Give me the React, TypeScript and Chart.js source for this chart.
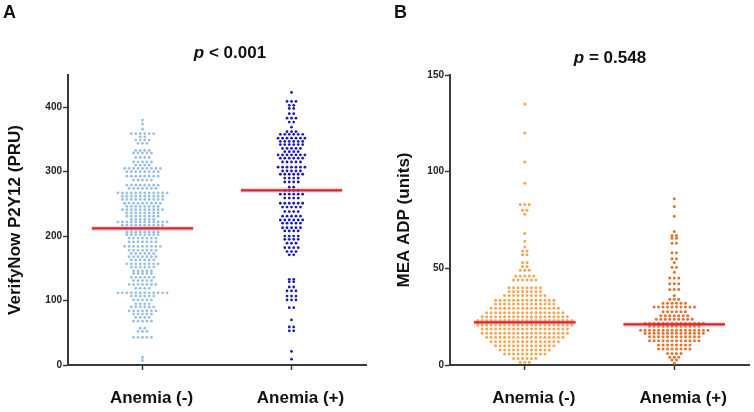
import React, { useEffect, useRef } from "react";
import { Chart, registerables } from "chart.js";

Chart.register(...registerables);

const FONT = '"Liberation Sans", Arial, sans-serif';

// Categories
const groupLabels = ["Anemia (-)", "Anemia (+)"];

const pruNegLevels = [380, 374, 366, 359, 354, 349, 344, 333, 329, 322, 315, 310, 305, 300, 293, 287, 279, 274, 267, 262, 257, 251, 246, 241, 236, 231, 226, 222, 217, 212, 206, 202, 197, 191, 184, 178, 173, 168, 163, 157, 152, 146, 142, 136, 131, 125, 119, 112, 107, 101, 95, 90, 84, 79, 74, 68, 57, 52, 43, 12, 7];
const pruNegCounts = [1, 1, 1, 6, 2, 4, 3, 4, 5, 4, 5, 4, 9, 8, 8, 5, 8, 7, 12, 10, 10, 9, 8, 10, 8, 8, 6, 12, 10, 8, 8, 8, 7, 7, 9, 7, 6, 7, 6, 8, 6, 5, 5, 6, 5, 7, 4, 12, 6, 5, 4, 6, 7, 5, 4, 5, 2, 3, 5, 1, 1];

const pruPosLevels = [423, 409, 403, 398, 390, 383, 377, 369, 362, 358, 352, 347, 342, 336, 331, 326, 321, 315, 307, 301, 296, 290, 284, 276, 271, 265, 259, 251, 245, 238, 231, 225, 220, 213, 208, 200, 195, 189, 182, 176, 171, 133, 129, 121, 115, 107, 101, 89, 70, 59, 53, 21, 9];
const pruPosCounts = [1, 3, 2, 2, 2, 3, 2, 1, 3, 6, 7, 6, 6, 5, 4, 7, 6, 5, 7, 5, 6, 4, 4, 2, 4, 6, 4, 6, 5, 4, 5, 6, 5, 5, 4, 4, 4, 3, 4, 3, 2, 2, 2, 2, 3, 3, 3, 2, 1, 2, 2, 1, 1];

// Panel B: MEA ADP (units)
const meaNegLevels = [135, 120, 105, 94, 83, 80, 78, 68, 64, 61, 59, 57, 53, 51, 49, 46, 44, 40, 38, 36, 33.5, 31.5, 29.3, 27, 25, 23, 20.7, 18.6, 16.4, 14.3, 12, 10, 7.8, 5.7, 3.4, 1.4];
const meaNegCounts = [1, 1, 1, 1, 3, 2, 1, 1, 1, 1, 2, 2, 2, 2, 3, 5, 6, 8, 8, 10, 14, 14, 16, 18, 20, 22, 22, 20, 20, 18, 16, 14, 12, 10, 6, 3];

const meaPosLevels = [86, 82, 77, 69, 67, 65.5, 63, 58, 55, 53, 50.5, 48, 45, 42, 39, 36, 34, 32, 30, 27.6, 25.5, 23.6, 21.6, 20, 18, 16.4, 14.6, 12.6, 10.3, 8.3, 6, 4, 2.6, 0.9];
const meaPosCounts = [1, 1, 1, 1, 2, 2, 2, 2, 2, 1, 2, 1, 3, 3, 3, 1, 3, 6, 10, 6, 7, 9, 14, 12, 16, 14, 12, 12, 8, 8, 4, 3, 2, 1];

// Group means (red lines)
const pruMeans = [212, 271];
const meaMeans = [22, 21];

// Tick labels
const pruTicks = [0, 100, 200, 300, 400];
const meaTicks = [0, 50, 100, 150];

const DOT_STEP = 0.03; // horizontal spacing of dots in category units
const MEAN_HALF = 0.34;

function swarm(levels: number[], counts: number[], cat: number) {
  const pts: { x: number; y: number }[] = [];
  levels.forEach((v, i) => {
    const n = counts[i];
    for (let k = 0; k < n; k++) {
      pts.push({ x: cat + (k - (n - 1) / 2) * DOT_STEP, y: v });
    }
  });
  return pts;
}

function meanLine(means: number[], i: number) {
  return [
    { x: i - MEAN_HALF, y: means[i] },
    { x: i + MEAN_HALF, y: means[i] },
  ];
}

type PanelSpec = {
  negLevels: number[];
  negCounts: number[];
  posLevels: number[];
  posCounts: number[];
  means: number[];
  ticks: number[];
  yMax: number;
  title: string;
  colors: [string, string];
  radius: number;
  padLeft: number;
  padRight: number;
  yWidth: number;
};

function makeConfig(p: PanelSpec): any {
  const dot = (data: any[], color: string) => ({
    data,
    showLine: false,
    pointRadius: p.radius,
    pointHoverRadius: p.radius,
    pointBorderWidth: 0,
    backgroundColor: color,
    borderColor: color,
    order: 2,
  });
  const line = (data: any[], color: string, width: number, order: number) => ({
    data,
    showLine: true,
    pointRadius: 0,
    pointHoverRadius: 0,
    borderColor: color,
    borderWidth: width,
    fill: false,
    order,
  });
  const axisColor = "#3a3a3a";
  return {
    type: "scatter",
    data: {
      datasets: [
        line(meanLine(p.means, 0), "rgba(240,140,140,0.3)", 5, 1),
        line(meanLine(p.means, 1), "rgba(240,140,140,0.3)", 5, 1),
        line(meanLine(p.means, 0), "#e0202a", 2.2, 0),
        line(meanLine(p.means, 1), "#e0202a", 2.2, 0),
        dot(swarm(p.negLevels, p.negCounts, 0), p.colors[0]),
        dot(swarm(p.posLevels, p.posCounts, 1), p.colors[1]),
      ],
    },
    options: {
      animation: false,
      responsive: false,
      events: [],
      layout: { padding: { left: p.padLeft, right: p.padRight, top: 75, bottom: 0 } },
      plugins: { legend: { display: false }, tooltip: { enabled: false } },
      scales: {
        x: {
          type: "linear",
          min: -0.5,
          max: 1.5,
          afterBuildTicks: (s: any) => {
            s.ticks = groupLabels.map((_, i) => ({ value: i }));
          },
          afterFit: (s: any) => {
            s.height = 47;
          },
          ticks: {
            autoSkip: false,
            maxRotation: 0,
            padding: 18,
            labelOffset: 9,
            color: "#111",
            font: { family: FONT, size: 17, weight: "bold" },
            callback: (v: any) => groupLabels[Math.round(Number(v))] ?? "",
          },
          grid: {
            drawOnChartArea: false,
            drawTicks: true,
            tickLength: 5,
            tickColor: axisColor,
            tickWidth: 1.5,
          },
          border: { display: true, color: axisColor, width: 2 },
        },
        y: {
          type: "linear",
          min: 0,
          max: p.yMax,
          afterBuildTicks: (s: any) => {
            s.ticks = p.ticks.map((v) => ({ value: v }));
          },
          afterFit: (s: any) => {
            s.width = p.yWidth;
          },
          ticks: {
            padding: 1,
            color: "#222",
            font: { family: FONT, size: 10, weight: "bold" },
          },
          grid: {
            drawOnChartArea: false,
            drawTicks: true,
            tickLength: 5,
            tickColor: axisColor,
            tickWidth: 1.5,
          },
          border: { display: true, color: axisColor, width: 2 },
          title: {
            display: true,
            text: p.title,
            color: "#111",
            padding: 0,
            font: { family: FONT, size: 17, weight: "bold" },
          },
        },
      },
    },
  };
}

const panelA: PanelSpec = {
  negLevels: pruNegLevels,
  negCounts: pruNegCounts,
  posLevels: pruPosLevels,
  posCounts: pruPosCounts,
  means: pruMeans,
  ticks: pruTicks,
  yMax: 450,
  title: "VerifyNow P2Y12 (PRU)",
  colors: ["#98bfe8", "#1a1ac4"],
  radius: 1.4,
  padLeft: 5,
  padRight: 11,
  yWidth: 63,
};

const panelB: PanelSpec = {
  negLevels: meaNegLevels,
  negCounts: meaNegCounts,
  posLevels: meaPosLevels,
  posCounts: meaPosCounts,
  means: meaMeans,
  ticks: meaTicks,
  yMax: 150,
  title: "MEA ADP (units)",
  colors: ["#f4a652", "#e8702a"],
  radius: 1.5,
  padLeft: 17,
  padRight: 5,
  yWidth: 56,
};

function Panel({ spec, left }: { spec: PanelSpec; left: number }) {
  const ref = useRef<HTMLCanvasElement | null>(null);
  useEffect(() => {
    if (!ref.current) return;
    const chart = new Chart(ref.current, makeConfig(spec));
    return () => chart.destroy();
  }, [spec]);
  return (
    <canvas
      ref={ref}
      width={377}
      height={412}
      style={{ position: "absolute", left, top: 0, width: 377, height: 412 }}
    />
  );
}

const textBase: React.CSSProperties = {
  position: "absolute",
  fontFamily: FONT,
  fontWeight: "bold",
  color: "#111",
  lineHeight: 1,
  whiteSpace: "nowrap",
};

export default function App() {
  useEffect(() => {
    document.body.style.margin = "0";
  }, []);
  return (
    <div
      style={{
        position: "fixed",
        left: 0,
        top: 0,
        width: 754,
        height: 412,
        background: "#fff",
        overflow: "hidden",
      }}
    >
      <Panel spec={panelA} left={0} />
      <Panel spec={panelB} left={377} />
      <div style={{ ...textBase, left: 3, top: 3, fontSize: 18 }}>A</div>
      <div style={{ ...textBase, left: 394, top: 3, fontSize: 18 }}>B</div>
      <div
        style={{
          ...textBase,
          left: 230,
          top: 52,
          fontSize: 17,
          transform: "translate(-50%, -50%)",
        }}
      >
        <i>p</i> &lt; 0.001
      </div>
      <div
        style={{
          ...textBase,
          left: 610,
          top: 57,
          fontSize: 17,
          transform: "translate(-50%, -50%)",
        }}
      >
        <i>p</i> = 0.548
      </div>
    </div>
  );
}
